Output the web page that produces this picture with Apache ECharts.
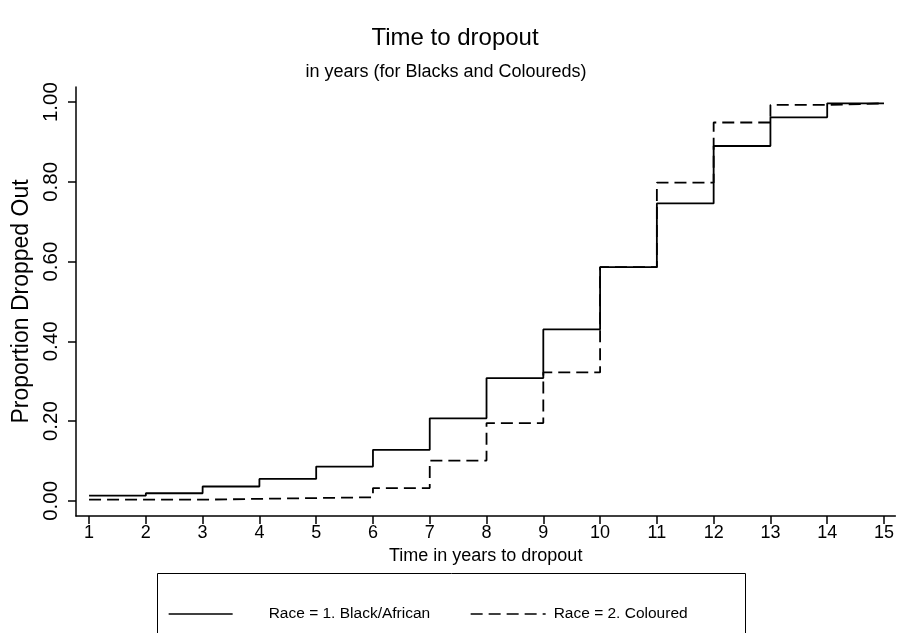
<!DOCTYPE html>
<html>
<head>
<meta charset="utf-8">
<script src="https://cdn.jsdelivr.net/npm/echarts@6/dist/echarts.min.js"></script>
<style>html,body{margin:0;padding:0;background:#fff}#c{width:897px;height:633px}</style>
</head>
<body>
<div id="c"></div>
<script>
// Data
var timeYears = [1, 2, 3, 4, 5, 6, 7, 8, 9, 10, 11, 12, 13, 14, 15];
var blackAfrican = [0.013, 0.019, 0.036, 0.055, 0.086, 0.128, 0.207, 0.308, 0.430, 0.586, 0.746, 0.890, 0.962, 0.997, 0.997];
var coloured = [0.003, 0.003, 0.005, 0.007, 0.009, 0.032, 0.101, 0.195, 0.322, 0.586, 0.798, 0.949, 0.993, 0.997, 0.997];
var yTicks = [0, 0.2, 0.4, 0.6, 0.8, 1.0];
var xTicks = [1, 2, 3, 4, 5, 6, 7, 8, 9, 10, 11, 12, 13, 14, 15];
var seriesNames = ['Race = 1. Black/African', 'Race = 2. Coloured'];

function pairs(xs, ys) { return xs.map(function (x, i) { return [x, ys[i]]; }); }

var FONT = 'Liberation Sans, Arial, Helvetica, sans-serif';
var chart = echarts.init(document.getElementById('c'), null, { renderer: 'canvas' });
chart.setOption({
  backgroundColor: '#fff',
  animation: false,
  title: [
    {
      text: 'Time to dropout',
      left: 455, top: 26, textAlign: 'center', padding: 0,
      textStyle: { fontFamily: FONT, fontSize: 24, fontWeight: 'normal', color: '#000' }
    },
    {
      text: 'in years (for Blacks and Coloureds)',
      left: 446, top: 63, textAlign: 'center', padding: 0,
      textStyle: { fontFamily: FONT, fontSize: 18, fontWeight: 'normal', color: '#000' }
    }
  ],
  grid: { left: 76, right: 1, top: 87, bottom: 117, containLabel: false },
  xAxis: {
    type: 'value', min: 0.77, max: 15.2,
    name: 'Time in years to dropout', nameLocation: 'middle', nameGap: 30,
    nameTextStyle: { fontFamily: FONT, fontSize: 18, color: '#000' },
    axisLine: { show: true, onZero: false, lineStyle: { color: '#000', width: 1.5 } },
    axisTick: { show: true, length: 8, customValues: xTicks, lineStyle: { color: '#000', width: 1.5 } },
    axisLabel: { customValues: xTicks, margin: 8, fontFamily: FONT, fontSize: 18, color: '#000' },
    splitLine: { show: false }
  },
  yAxis: {
    type: 'value', min: -0.038, max: 1.038,
    name: 'Proportion Dropped Out', nameLocation: 'middle', nameGap: 42, nameRotate: 90,
    nameTextStyle: { fontFamily: FONT, fontSize: 23, color: '#000' },
    axisLine: { show: true, onZero: false, lineStyle: { color: '#000', width: 1.5 } },
    axisTick: { show: true, length: 8, customValues: yTicks, lineStyle: { color: '#000', width: 1.5 } },
    axisLabel: {
      customValues: yTicks, rotate: 90, margin: 14, fontFamily: FONT, fontSize: 20.5, color: '#000',
      formatter: function (v) { return v.toFixed(2); }
    },
    splitLine: { show: false }
  },
  legend: [
    {
      data: [seriesNames[0]], left: 168, top: 606, padding: 0, selectedMode: false,
      itemWidth: 64, itemHeight: 14,
      itemStyle: { opacity: 0 },
      lineStyle: { width: 1.3 },
      textStyle: { fontFamily: FONT, fontSize: 15.5, color: '#000', padding: [0, 0, 0, 31] }
    },
    {
      data: [seriesNames[1]], left: 470, top: 606, padding: 0, selectedMode: false,
      itemWidth: 75, itemHeight: 14,
      itemStyle: { opacity: 0 },
      lineStyle: { width: 1.3 },
      textStyle: { fontFamily: FONT, fontSize: 15.5, color: '#000', padding: [0, 0, 0, 3] }
    }
  ],
  graphic: [
    { type: 'rect', left: 155, top: 571, shape: { width: 588, height: 100 },
      style: { fill: 'none', stroke: '#000', lineWidth: 1 } }
  ],
  series: [
    {
      name: seriesNames[0], type: 'line', step: 'end', data: pairs(timeYears, blackAfrican),
      symbol: 'none', showSymbol: false,
      lineStyle: { color: '#000', width: 1.8, type: 'solid' }, itemStyle: { color: '#000' }
    },
    {
      name: seriesNames[1], type: 'line', step: 'end', data: pairs(timeYears, coloured),
      symbol: 'none', showSymbol: false,
      lineStyle: { color: '#000', width: 1.8, type: [12, 6] }, itemStyle: { color: '#000' }
    }
  ]
});
</script>
</body>
</html>
